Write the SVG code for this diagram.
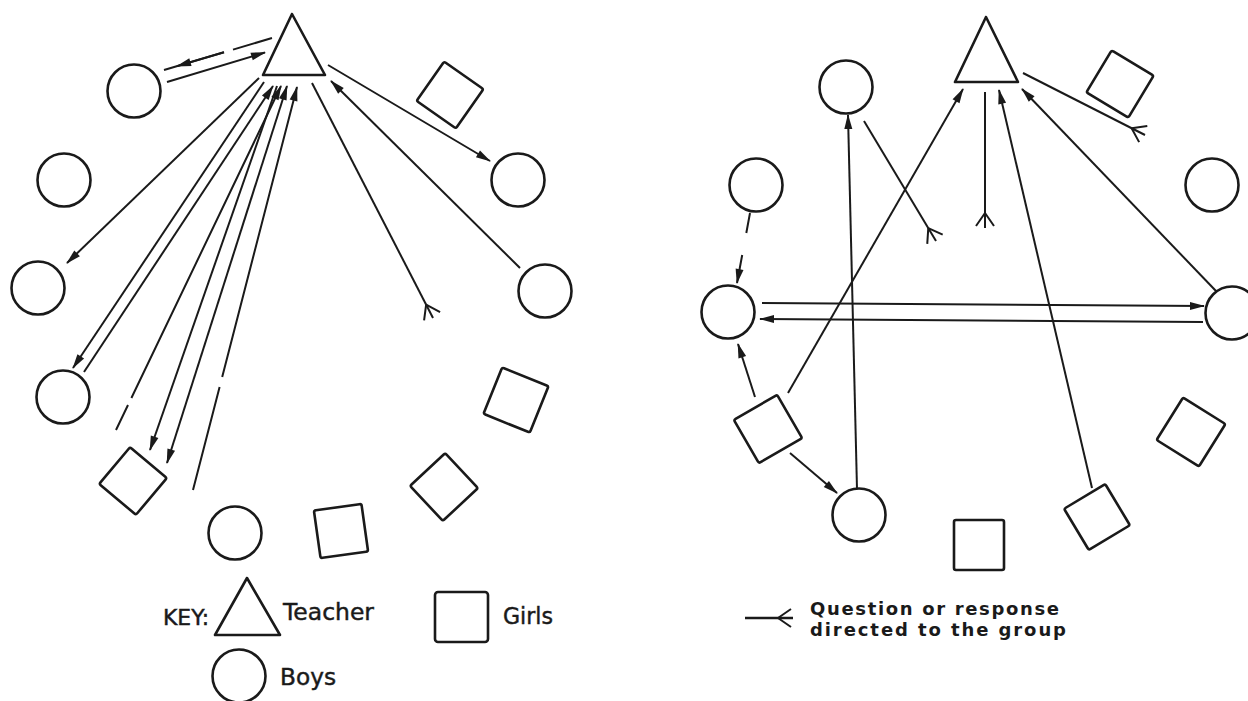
<svg xmlns="http://www.w3.org/2000/svg" width="1248" height="701" viewBox="0 0 1248 701">
<style>
.shape{fill:none;stroke:#1a1a1a;stroke-width:2.6;stroke-linejoin:round}
.ln{fill:none;stroke:#1a1a1a;stroke-width:2}
.ar{marker-end:url(#arr)}
.fk{marker-end:url(#fork)}
.key{font-family:"DejaVu Sans","Liberation Sans",sans-serif;fill:#1a1a1a;stroke:#1a1a1a;stroke-width:0.45}
.key2{font-family:"DejaVu Sans","Liberation Sans",sans-serif;font-weight:bold;fill:#1a1a1a}
</style>
<defs>
<marker id="arr" markerUnits="userSpaceOnUse" orient="auto-start-reverse" markerWidth="20" markerHeight="20" refX="0" refY="0" overflow="visible">
<path d="M1,0 L-14,-4 L-14,4 Z" fill="#1a1a1a"/>
</marker>
<marker id="fork" markerUnits="userSpaceOnUse" orient="auto" markerWidth="20" markerHeight="20" refX="0" refY="0" overflow="visible">
<path d="M-15,0 L-2,-9 M-15,0 L-2,9" fill="none" stroke="#1a1a1a" stroke-width="2"/>
</marker>
</defs>
<rect width="1248" height="701" fill="#ffffff"/>

<!-- LEFT DIAGRAM NODES -->
<g id="L-teacher"><polygon class="shape" points="292,14 263,75 325,75"/></g>
<g id="L-boyA"><circle class="shape" cx="134" cy="91" r="26.5"/></g>
<g id="L-girlB"><rect class="shape" x="-24" y="-24" width="48" height="48" rx="2" transform="translate(450,95) rotate(35)"/></g>
<g id="L-boyC"><circle class="shape" cx="518" cy="180" r="26.5"/></g>
<g id="L-boyD"><circle class="shape" cx="64" cy="180" r="26.5"/></g>
<g id="L-boyE"><circle class="shape" cx="38" cy="288" r="26.5"/></g>
<g id="L-boyF"><circle class="shape" cx="545" cy="291" r="26.5"/></g>
<g id="L-boyG"><circle class="shape" cx="63" cy="397" r="26.5"/></g>
<g id="L-girlH"><rect class="shape" x="-25" y="-25" width="50" height="50" rx="2" transform="translate(516,400) rotate(22)"/></g>
<g id="L-girlI"><rect class="shape" x="-24" y="-24" width="48" height="48" rx="2" transform="translate(444,487) rotate(47)"/></g>
<g id="L-girlJ"><rect class="shape" x="-24" y="-24" width="48" height="48" rx="2" transform="translate(341,531) rotate(-8)"/></g>
<g id="L-boyK"><circle class="shape" cx="235" cy="533" r="26.5"/></g>
<g id="L-girlL"><rect class="shape" x="-24" y="-24" width="48" height="48" rx="2" transform="translate(133,481) rotate(40)"/></g>

<!-- RIGHT DIAGRAM NODES -->
<g id="R-teacher"><polygon class="shape" points="986,17 955,82 1018,82"/></g>
<g id="R-boy1"><circle class="shape" cx="846" cy="87" r="26.5"/></g>
<g id="R-girl1"><rect class="shape" x="-24.5" y="-24.5" width="49" height="49" rx="2" transform="translate(1120,84) rotate(31)"/></g>
<g id="R-boy2"><circle class="shape" cx="756" cy="185" r="26.5"/></g>
<g id="R-boy3"><circle class="shape" cx="1212" cy="185" r="26.5"/></g>
<g id="R-boy4"><circle class="shape" cx="728" cy="312" r="26.5"/></g>
<g id="R-boy5"><circle class="shape" cx="1232" cy="313" r="26.5"/></g>
<g id="R-girl2"><rect class="shape" x="-25" y="-25" width="50" height="50" rx="2" transform="translate(768,429) rotate(-30)"/></g>
<g id="R-boy6"><circle class="shape" cx="859" cy="515" r="26.5"/></g>
<g id="R-girl3"><rect class="shape" x="-25" y="-25" width="50" height="50" rx="2" transform="translate(979,545)"/></g>
<g id="R-girl4"><rect class="shape" x="-24" y="-24" width="48" height="48" rx="2" transform="translate(1097,517) rotate(-31)"/></g>
<g id="R-girl5"><rect class="shape" x="-25" y="-25" width="50" height="50" rx="2" transform="translate(1191,432) rotate(32)"/></g>

<!-- CONNECTORS -->
<g id="connectors">
<!-- left -->
<path class="ln" d="M272,38 L233,49.6 M224,52.2 L164,70"/>
<path class="ln ar" d="M224,52.2 L177,66.1"/>
<path class="ln ar" d="M167,82 L265,52.5"/>
<path class="ln ar" d="M328,65 L490,161"/>
<path class="ln ar" d="M520,268 L331,81"/>
<path class="ln fk" d="M312,83 L433,318"/>
<path class="ln ar" d="M259,78 L67,263"/>
<path class="ln ar" d="M264,82 L73,368"/>
<path class="ln ar" d="M84,372 L273,86"/>
<path class="ln ar" d="M116,430 L128,405 M131.4,398 L281,86"/>
<path class="ln ar" d="M277,86 L150,450"/>
<path class="ln ar" style="marker-start:url(#arr)" d="M287,86 L167,463"/>
<path class="ln ar" d="M193,490 L219.6,387 M222.2,377 L297,87"/>
<!-- right -->
<path class="ln fk" d="M1023,73 L1145,135"/>
<path class="ln fk" d="M864,121 L936,241"/>
<path class="ln fk" d="M985,92 L985,228"/>
<path class="ln ar" d="M788,393 L963,89"/>
<path class="ln ar" d="M857,489 L848,115"/>
<path class="ln ar" d="M1092,488 L999,90"/>
<path class="ln ar" d="M1216,291 L1022,89"/>
<path class="ln ar" d="M750,213 L746.3,233 M742.2,255 L737,283"/>
<path class="ln ar" d="M762,303 L1204,306"/>
<path class="ln ar" d="M1203,322 L760,319"/>
<path class="ln ar" d="M755,397 L738,344"/>
<path class="ln ar" d="M790,453 L837,493"/>
</g>

<!-- KEYS -->
<g id="key-left">
<text class="key" x="163" y="625" font-size="21" textLength="46" lengthAdjust="spacingAndGlyphs">KEY:</text>
<polygon class="shape" points="247,578 215,635 280,635"/>
<text class="key" x="283" y="620" font-size="23" textLength="91" lengthAdjust="spacingAndGlyphs">Teacher</text>
<rect class="shape" x="435" y="592" width="53" height="50" rx="3"/>
<text class="key" x="503" y="624" font-size="23" textLength="50" lengthAdjust="spacingAndGlyphs">Girls</text>
<circle class="shape" cx="239" cy="676" r="26.5"/>
<text class="key" x="280" y="685" font-size="23" textLength="56" lengthAdjust="spacingAndGlyphs">Boys</text>
</g>
<g id="key-right">
<path class="ln fk" style="stroke-width:2.4" d="M745,618 L793,618"/>
<text class="key2" x="810" y="615" font-size="18" textLength="249" lengthAdjust="spacing">Question or response</text>
<text class="key2" x="810" y="636" font-size="18" textLength="256" lengthAdjust="spacing">directed to the group</text>
</g>
</svg>
